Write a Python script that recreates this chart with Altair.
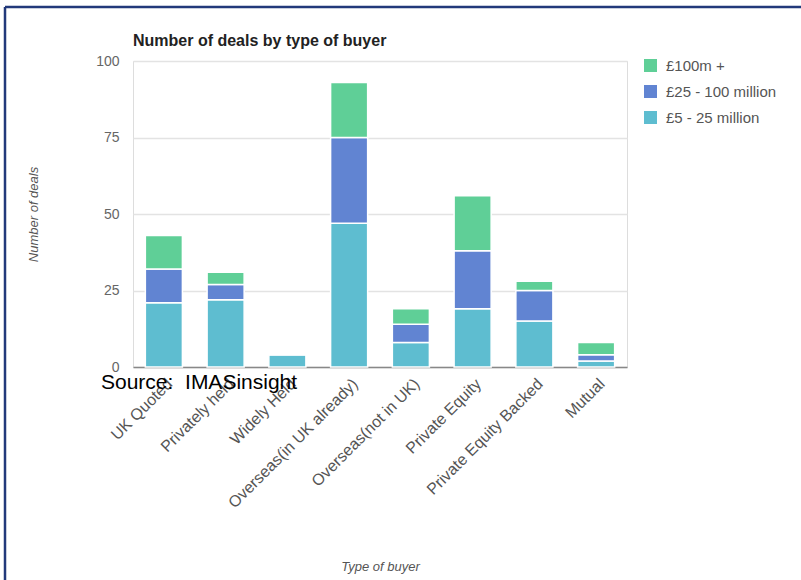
import altair as alt
import pandas as pd

# Deals by buyer type, split by deal size band
categories = [
    "UK Quoted",
    "Privately held",
    "Widely Held",
    "Overseas(in UK already)",
    "Overseas(not in UK)",
    "Private Equity",
    "Private Equity Backed",
    "Mutual",
]
bands = ["£100m +", "£25 - 100 million", "£5 - 25 million"]
band_colors = ["#5fcf97", "#6184d2", "#5ebdd0"]

deals_5_25 = [21, 22, 4, 47, 8, 19, 15, 2]
deals_25_100 = [11, 5, 0, 28, 6, 19, 10, 2]
deals_100_plus = [11, 4, 0, 18, 5, 18, 3, 4]

chart_title = "Number of deals by type of buyer"
source_note = "Source:\u00a0\u00a0IMASinsight"

rows = []
for i, cat in enumerate(categories):
    for rank, (band, vals) in enumerate(
        [("£5 - 25 million", deals_5_25),
         ("£25 - 100 million", deals_25_100),
         ("£100m +", deals_100_plus)]
    ):
        rows.append({"buyer": cat, "band": band, "deals": vals[i], "rank": rank})
df = pd.DataFrame(rows)

FONT = "Liberation Sans"

bars = alt.Chart(df).mark_bar(stroke="white", strokeWidth=1.5).encode(
    x=alt.X(
        "buyer:N",
        sort=categories,
        scale=alt.Scale(paddingInner=0.4, paddingOuter=0.2),
        axis=alt.Axis(
            title="Type of buyer",
            titleFontStyle="italic",
            titleFontWeight="normal",
            titleFont=FONT,
            titleFontSize=13,
            titleColor="#555555",
            titlePadding=50,
            labelAngle=-45,
            labelAlign="right",
            labelBaseline="middle",
            labelPadding=14,
            labelOffset=6,
            labelFont=FONT,
            labelFontSize=16,
            labelColor="#555555",
            ticks=False,
            domainColor="#888888",
            domainWidth=1.5,
            grid=False,
        ),
    ),
    y=alt.Y(
        "deals:Q",
        stack="zero",
        scale=alt.Scale(domain=[0, 100]),
        axis=alt.Axis(
            values=[0, 25, 50, 75, 100],
            title="Number of deals",
            titleFontStyle="italic",
            titleFontWeight="normal",
            titleFont=FONT,
            titleFontSize=13,
            titleColor="#555555",
            titlePadding=55,
            labelFont=FONT,
            labelFontSize=14,
            labelColor="#666666",
            labelPadding=14,
            ticks=False,
            domain=False,
            gridColor="#e3e3e3",
            gridWidth=1.5,
        ),
    ),
    color=alt.Color(
        "band:N",
        scale=alt.Scale(domain=bands, range=band_colors),
        legend=alt.Legend(
            title=None,
            orient="none",
            legendX=510,
            legendY=-3,
            symbolType="square",
            symbolSize=169,
            symbolStrokeWidth=0,
            symbolOpacity=1,
            labelFont=FONT,
            labelFontSize=15,
            labelColor="#555555",
            rowPadding=10,
            labelOffset=8,
        ),
    ),
    order=alt.Order("rank:Q"),
)

title_text = alt.Chart(pd.DataFrame({"t": [chart_title]})).mark_text(
    align="left", baseline="alphabetic", font=FONT, fontSize=16,
    fontWeight="bold", color="#222222"
).encode(text="t:N", x=alt.value(0), y=alt.value(-15))

source = alt.Chart(pd.DataFrame({"t": [source_note]})).mark_text(
    align="left", baseline="alphabetic", font=FONT, fontSize=21, color="black"
).encode(text="t:N", x=alt.value(-32), y=alt.value(328))

frame = pd.DataFrame({"k": [0]})
left_edge = alt.Chart(frame).mark_rule(color="#22397a", strokeWidth=2.5).encode(
    x=alt.value(-128), y=alt.value(-54), y2=alt.value(520)
)
top_edge = alt.Chart(frame).mark_rule(color="#22397a", strokeWidth=2.5).encode(
    x=alt.value(-128), x2=alt.value(670), y=alt.value(-54)
)

chart = alt.layer(bars, title_text, source, left_edge, top_edge).properties(
    width=494,
    height=306,
    autosize=alt.AutoSizeParams(type="none"),
    padding={"left": 133, "top": 61, "right": 174, "bottom": 213},
).configure_view(stroke=None).configure(background="white")

chart.save("out.html", embed_options={"renderer": "svg", "actions": False})
